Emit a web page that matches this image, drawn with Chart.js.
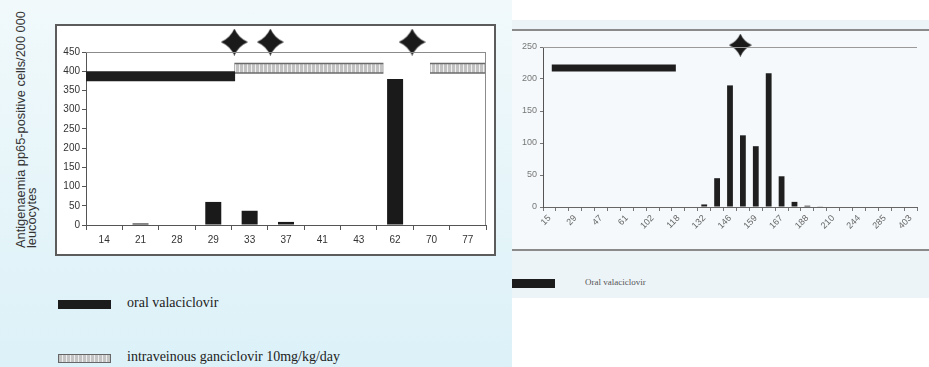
<!DOCTYPE html>
<html>
<head>
<meta charset="utf-8">
<script src="https://cdn.jsdelivr.net/npm/chart.js@4.4.1/dist/chart.umd.min.js"></script>
<style>
  html, body { margin: 0; padding: 0; width: 929px; height: 367px; overflow: hidden; background: #fff; }
  .abs { position: absolute; }
  #leftBg { left: 0; top: 0; width: 512px; height: 367px; background: linear-gradient(#f1f9fb, #dcf1f8); }
  #leftFrame { left: 55px; top: 24px; width: 441px; height: 232px; border: 2px solid #5c5c5c; box-sizing: border-box; background: #fff; }
  #rightBg { left: 512px; top: 20px; width: 417px; height: 278px; background: #edf4f8; }
  #rightFrame { left: 512px; top: 29px; width: 417px; height: 222px; border-top: 2px solid #8a8a8a; border-bottom: 2px solid #8a8a8a; box-sizing: border-box; background: #f5f9fb; }
  #yTitle { left: 15px; top: 248px; transform: rotate(-90deg); transform-origin: 0 0; white-space: nowrap;
            font: 12.8px "Liberation Sans", Arial, sans-serif; line-height: 11px; color: #333; }
  .legText { font-family: "Liberation Serif", "Times New Roman", serif; color: #222; white-space: nowrap; }
  .swBlack { background: #1c1c1c; }
  .swGrey { background: repeating-linear-gradient(90deg, #c4c4c4 0 3px, #eeeeee 3px 4px); border: 1px solid #666; box-sizing: border-box; }
</style>
</head>
<body>
<div id="leftBg" class="abs"></div>
<div id="leftFrame" class="abs"></div>
<div id="rightBg" class="abs"></div>
<div id="rightFrame" class="abs"></div>
<div id="yTitle" class="abs">Antigenaemia pp65-positive cells/200 000<br>leucocytes</div>

<canvas id="leftChart" class="abs" style="left:0;top:0" width="500" height="262"></canvas>
<canvas id="rightChart" class="abs" style="left:512px;top:20px" width="417" height="225"></canvas>

<div class="abs swBlack" style="left:58px;top:300px;width:53px;height:9px"></div>
<div class="abs legText" style="left:127px;top:295px;font-size:14px">oral valaciclovir</div>
<div class="abs swGrey" style="left:58px;top:354px;width:53px;height:9px"></div>
<div class="abs legText" style="left:127px;top:349px;font-size:14px">intraveinous ganciclovir 10mg/kg/day</div>

<div class="abs swBlack" style="left:512px;top:279px;width:43px;height:9px"></div>
<div class="abs legText" style="left:585px;top:277px;font-size:9px;color:#555">Oral valaciclovir</div>

<script>
// left panel: days after transplant, antigenaemia counts
const leftDays = ['14', '21', '28', '29', '33', '37', '41', '43', '62', '70', '77']
const leftAntigen = [0, 4, 0, 60, 37, 8, 0, 0, 380, 0, 0]
// treatment periods, in category index units [start, end], and the level drawn
const leftValaciclovir = [[-0.5, 3.6]]
const leftValaciclovirLevel = 387
const leftGanciclovir = [[3.58, 7.68], [8.96, 10.5]]
const leftGanciclovirLevel = 408
const leftStars = [3.58, 4.57, 8.47]
const leftStarLevel = 476

// right panel
const rightDays = ['15', '', '29', '', '47', '', '61', '', '102', '', '118', '', '132', '', '146', '',
  '159', '', '167', '', '188', '', '210', '', '244', '', '285', '', '403']
const rightAntigen = [0, 0, 0, 0, 0, 0, 0, 0, 0, 0, 0, 0, 4, 45, 190, 112, 95, 209, 48, 8, 2, 1, 0, 0, 0, 0, 0, 0, 0]
const rightValaciclovir = [[0.18, 9.8]]
const rightValaciclovirLevel = 217
const rightStars = [14.8]
const rightStarLevel = 253

function starImg(size, color) {
  const c = document.createElement('canvas')
  c.width = c.height = size
  const g = c.getContext('2d')
  const h = size / 2, k = size * 0.15
  g.fillStyle = color
  g.beginPath()
  g.moveTo(h, 0)
  g.quadraticCurveTo(h + k, h - k, size, h)
  g.quadraticCurveTo(h + k, h + k, h, size)
  g.quadraticCurveTo(h - k, h + k, 0, h)
  g.quadraticCurveTo(h - k, h - k, h, 0)
  g.fill()
  return c
}

function stripePattern(ctx) {
  const c = document.createElement('canvas')
  c.width = 4; c.height = 4
  const g = c.getContext('2d')
  g.fillStyle = '#c2c2c2'
  g.fillRect(0, 0, 4, 4)
  g.fillStyle = '#f0f0f0'
  g.fillRect(3, 0, 1, 4)
  return ctx.createPattern(c, 'repeat')
}

const periods = (list, level) => list.map(p => [{ x: p[0], y: level }, { x: p[1], y: level }])

const plotFrame = {
  id: 'plotFrame',
  afterDatasetsDraw(chart, args, opts) {
    const { ctx, chartArea: a } = chart
    ctx.save()
    ctx.strokeStyle = opts.color
    ctx.lineWidth = 1
    ctx.beginPath()
    if (opts.sides.includes('top')) { ctx.moveTo(a.left, a.top + 0.5); ctx.lineTo(a.right, a.top + 0.5) }
    if (opts.sides.includes('right')) { ctx.moveTo(a.right - 0.5, a.top); ctx.lineTo(a.right - 0.5, a.bottom) }
    ctx.stroke()
    ctx.restore()
  }
}

Chart.defaults.font.family = '"Liberation Sans", Arial, sans-serif'
Chart.defaults.animation = false

function treatmentLine(points, color, width, order) {
  return {
    type: 'line', xAxisID: 'xt', data: points, borderColor: color, borderWidth: width,
    borderCapStyle: 'butt', pointRadius: 0, fill: false, clip: false, order: order
  }
}

// ---- left chart ----
const leftCanvas = document.getElementById('leftChart')
const leftDatasets = [{
  label: 'antigenaemia',
  data: leftAntigen,
  backgroundColor: '#1a1a1a',
  barPercentage: 0.44,
  categoryPercentage: 1,
  grouped: false,
  order: 3
}]
periods(leftValaciclovir, leftValaciclovirLevel).forEach(p => leftDatasets.push(treatmentLine(p, '#1e1e1e', 10, 1)))
const pat = stripePattern(leftCanvas.getContext('2d'))
periods(leftGanciclovir, leftGanciclovirLevel).forEach(p => {
  leftDatasets.push(treatmentLine(p, '#6a6a6a', 11, 2))
  leftDatasets.push(treatmentLine(p, pat, 8, 1))
})
leftDatasets.push({
  type: 'line', xAxisID: 'xt', showLine: false, clip: false,
  data: leftStars.map(x => ({ x: x, y: leftStarLevel })),
  pointStyle: starImg(27, '#1a1a1a'), pointRadius: 13, order: 0
})

new Chart(leftCanvas, {
  type: 'bar',
  data: { labels: leftDays, datasets: leftDatasets },
  options: {
    responsive: false,
    layout: { padding: { top: 52, right: 11, left: 0, bottom: 0 } },
    plugins: { legend: { display: false }, tooltip: { enabled: false },
      plotFrame: { color: '#8c8c8c', sides: ['top', 'right'] } },
    scales: {
      x: {
        grid: { offset: true, drawOnChartArea: false, tickLength: 5, color: '#555' },
        border: { color: '#555' },
        ticks: { color: '#333', font: { size: 10 }, padding: 4, maxRotation: 0, autoSkip: false },
        afterFit: s => { s.height = 37 }
      },
      xt: { type: 'linear', display: false, offset: false, min: -0.5, max: leftDays.length - 0.5 },
      y: {
        min: 0, max: 450,
        ticks: { stepSize: 50, color: '#333', font: { size: 10 }, padding: 2 },
        grid: { drawOnChartArea: false, tickLength: 4, color: '#555' },
        border: { color: '#555' },
        afterFit: s => { s.width = 86 }
      }
    }
  },
  plugins: [plotFrame]
})

// ---- right chart ----
const rightDatasets = [{
  label: 'antigenaemia',
  data: rightAntigen,
  backgroundColor: '#1f1f1f',
  barPercentage: 0.45,
  categoryPercentage: 1,
  grouped: false,
  order: 3
}]
periods(rightValaciclovir, rightValaciclovirLevel).forEach(p => rightDatasets.push(treatmentLine(p, '#1e1e1e', 7, 1)))
rightDatasets.push({
  type: 'line', xAxisID: 'xt', showLine: false, clip: false,
  data: rightStars.map(x => ({ x: x, y: rightStarLevel })),
  pointStyle: starImg(23, '#1a1a1a'), pointRadius: 11, order: 0
})

new Chart(document.getElementById('rightChart'), {
  type: 'bar',
  data: { labels: rightDays, datasets: rightDatasets },
  options: {
    responsive: false,
    layout: { padding: { top: 27, right: 0, left: 0, bottom: 0 } },
    plugins: { legend: { display: false }, tooltip: { enabled: false },
      plotFrame: { color: '#9a9a9a', sides: ['top'] } },
    scales: {
      x: {
        grid: { offset: true, drawOnChartArea: false, tickLength: 4, color: '#777' },
        border: { color: '#666' },
        ticks: { color: '#666', font: { size: 9 }, padding: 2, minRotation: 45, maxRotation: 45, autoSkip: false },
        afterFit: s => { s.height = 38 }
      },
      xt: { type: 'linear', display: false, offset: false, min: -0.5, max: rightDays.length - 0.5 },
      y: {
        min: 0, max: 250,
        ticks: { stepSize: 50, color: '#777', font: { size: 9 }, padding: 3 },
        grid: { drawOnChartArea: false, tickLength: 3, color: '#777' },
        border: { color: '#555' },
        afterFit: s => { s.width = 31 }
      }
    }
  },
  plugins: [plotFrame]
})
</script>
</body>
</html>
